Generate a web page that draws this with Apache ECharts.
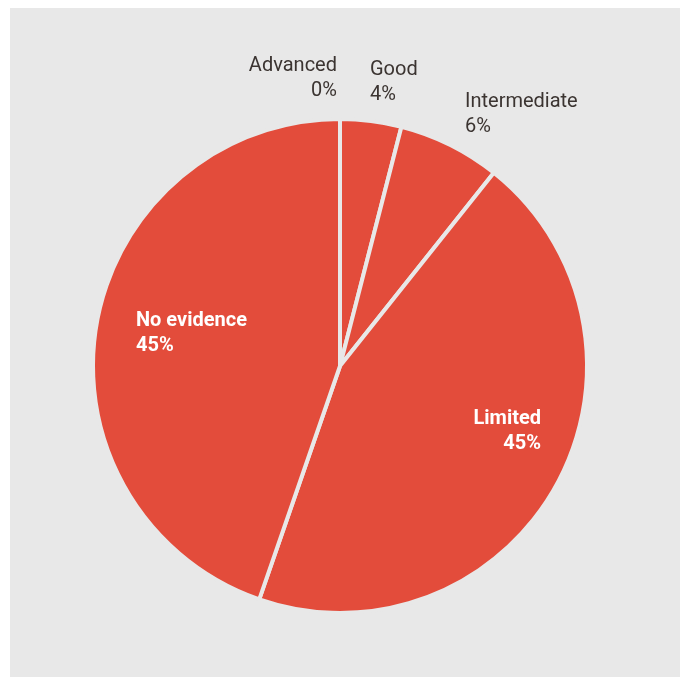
<!DOCTYPE html>
<html>
<head>
<meta charset="utf-8">
<script src="https://cdn.jsdelivr.net/npm/echarts@6/dist/echarts.min.js"></script>
<style>
html,body{margin:0;padding:0;background:#fff;}
#chart{width:680px;height:677px;}
</style>
</head>
<body>
<div id="chart"></div>
<script>
// Data
const categories = ['Advanced', 'Good', 'Intermediate', 'Limited', 'No evidence'];
const values = [0, 4.0, 6.7, 44.6, 44.7];
const pctLabels = ['0%', '4%', '6%', '45%', '45%'];

// Label styling per slice (layout only)
const labelLayouts = [
  { x: 337, y: 78, align: 'right', inside: false },
  { x: 370, y: 82, align: 'left', inside: false },
  { x: 465, y: 114, align: 'left', inside: false },
  { x: 541, y: 431, align: 'right', inside: true },
  { x: 136, y: 333, align: 'left', inside: true }
];

const chart = echarts.init(document.getElementById('chart'), null, { renderer: 'canvas' });

const data = categories.map((c, i) => ({
  name: c,
  value: values[i],
  label: {
    color: labelLayouts[i].inside ? '#ffffff' : '#3b3431',
    fontWeight: labelLayouts[i].inside ? 'bold' : 'normal',
    align: labelLayouts[i].align
  }
}));

chart.setOption({
  animation: false,
  backgroundColor: '#ffffff',
  graphic: [{
    type: 'rect',
    z: -10,
    shape: { x: 10, y: 8, width: 670, height: 669 },
    style: { fill: '#e8e8e8' }
  }],
  series: [{
    type: 'pie',
    center: [340, 366],
    radius: [0, 247],
    startAngle: 90,
    clockwise: true,
    avoidLabelOverlap: false,
    itemStyle: {
      color: '#e34c3b',
      borderColor: '#e8e8e8',
      borderWidth: 4
    },
    label: {
      show: true,
      position: 'outside',
      fontFamily: 'Roboto, "Liberation Sans", sans-serif',
      fontSize: 20,
      lineHeight: 25,
      formatter: p => p.name + '\n' + pctLabels[p.dataIndex]
    },
    labelLine: { show: false },
    labelLayout: p => {
      const l = labelLayouts[p.dataIndex];
      return { x: l.x, y: l.y, align: l.align, verticalAlign: 'middle' };
    },
    emphasis: { disabled: true },
    data: data
  }]
});
</script>
</body>
</html>
